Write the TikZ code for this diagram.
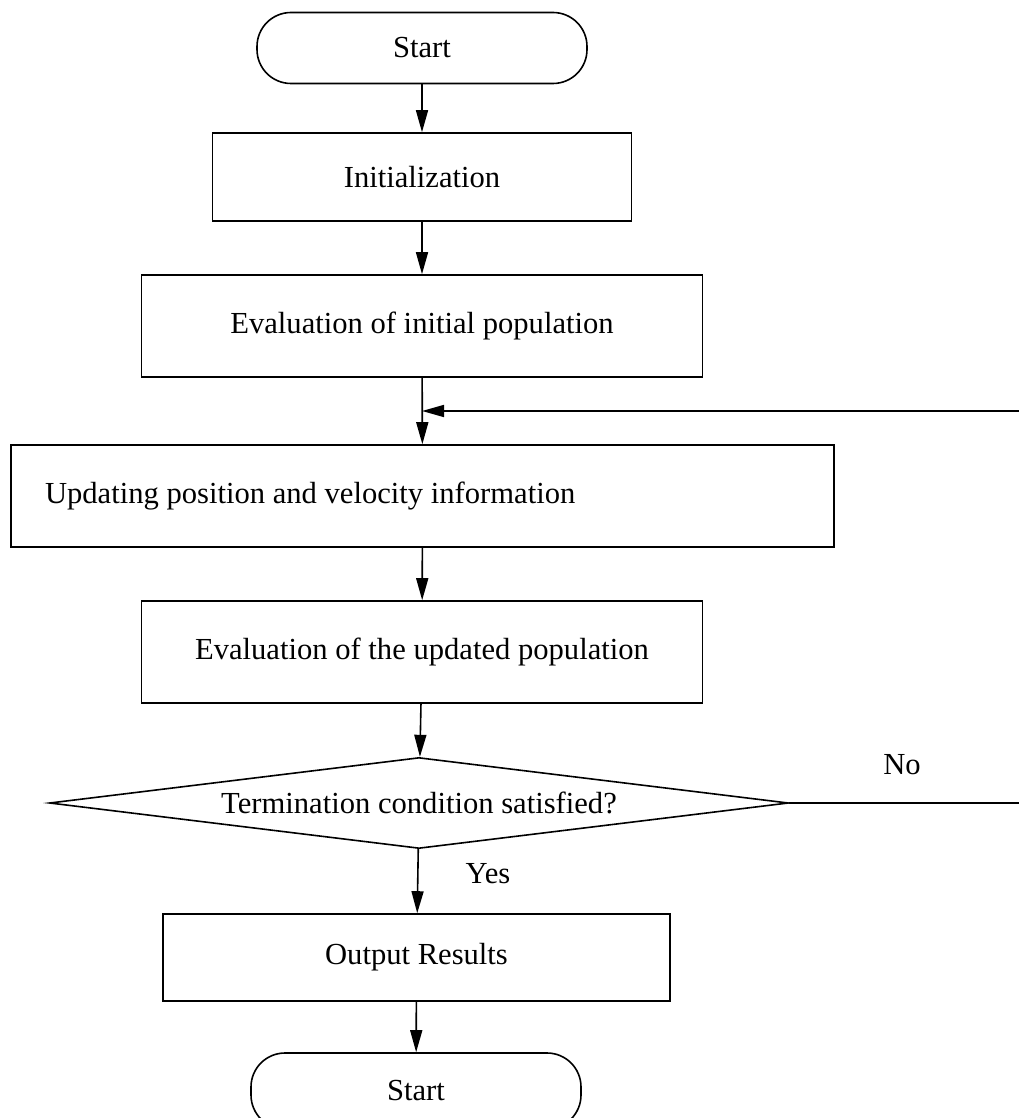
\documentclass[tikz,border=0pt]{standalone}
\usepackage{fontspec}
\setmainfont{Liberation Serif}
\usetikzlibrary{shapes.geometric,arrows.meta}
\begin{document}
\begin{tikzpicture}[x=0.5pt, y=-0.5pt, font=\fontsize{15.3}{18}\selectfont]

      \tikzset{termbox/.style={draw, rectangle, rounded corners=17pt, line width=0.8pt, minimum width=165pt, minimum height=35.5pt, inner sep=0pt},
               procbox/.style={draw, rectangle, line width=0.8pt, inner sep=0pt},
               decbox/.style={draw, diamond, aspect=8, line width=0.8pt, inner sep=0pt, minimum width=369.5pt, minimum height=45.5pt},
               flow/.style={-{Triangle[length=11pt, width=6pt]}, line width=0.8pt}}
      \useasboundingbox (0,0) rectangle (1018,1118);
%% Nodes
      	\node[termbox] (start) at (422,48) {Start};
      	\node[procbox, minimum width=209.5pt, minimum height=44pt] (init) at (422,177) {Initialization};
      	\node[procbox, minimum width=280.5pt, minimum height=51pt] (evalinit) at (422,326) {Evaluation of initial population};
      	\node[procbox, minimum height=51pt, text width=377.5pt, inner xsep=17pt, align=flush left] (update) at (422.5,496) {Updating position and velocity information};
      	\node[procbox, minimum width=280.5pt, minimum height=51pt] (evalupd) at (422,652) {Evaluation of the updated population};
      	\node[decbox] (cond) at (419,803) {Termination condition satisfied?};
      	\node[procbox, minimum width=253.5pt, minimum height=43.5pt] (output) at (416.5,957.5) {Output Results};
      	\node[termbox, minimum height=38pt] (stop) at (416,1091) {Start};
%Labels
      	\node (no) at (902,765) {No};
      	\node (yes) at (488,874) {Yes};
      	\coordinate (join) at (422,411);
      	\coordinate (back) at (1030,411);
%Edges
		\path [flow] (start) edge (init);
		\path [flow] (init) edge (evalinit);
		\path [flow] (evalinit) edge (update);
		\path [flow] (update) edge (evalupd);
		\path [flow] (evalupd) edge (cond);
		\path [flow] (cond) edge (output);
		\path [flow] (output) edge (stop);
		\draw [flow] (cond.east) -| (back) -- (join);

	\end{tikzpicture}
\end{document}
